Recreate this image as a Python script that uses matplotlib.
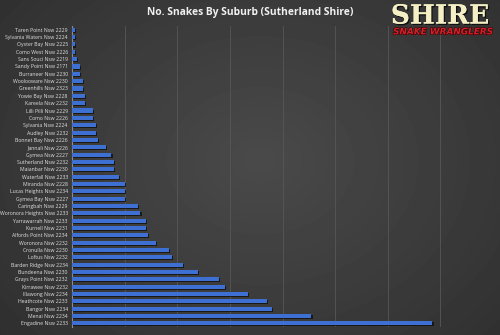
import numpy as np
import matplotlib
matplotlib.use("Agg")
import matplotlib.pyplot as plt
import matplotlib.patheffects as pe

# suburbs, top to bottom as shown in the chart
suburbs = [
    "Taren Point Nsw 2229", "Sylvania Waters Nsw 2224", "Oyster Bay Nsw 2225",
    "Como West Nsw 2226", "Sans Souci Nsw 2219", "Sandy Point Nsw 2171",
    "Burraneer Nsw 2230", "Woolooware Nsw 2230", "Greenhills Nsw 2323",
    "Yowie Bay Nsw 2228", "Kareela Nsw 2232", "Lilli Pilli Nsw 2229",
    "Como Nsw 2226", "Sylvania Nsw 2224", "Audley Nsw 2232",
    "Bonnet Bay Nsw 2226", "Jannali Nsw 2226", "Gymea Nsw 2227",
    "Sutherland Nsw 2232", "Maianbar Nsw 2230", "Waterfall Nsw 2233",
    "Miranda Nsw 2228", "Lucas Heights Nsw 2234", "Gymea Bay Nsw 2227",
    "Caringbah Nsw 2229", "Woronora Heights Nsw 2233", "Yarrawarrah Nsw 2233",
    "Kurnell Nsw 2231", "Alfords Point Nsw 2234", "Woronora Nsw 2232",
    "Cronulla Nsw 2230", "Loftus Nsw 2232", "Barden Ridge Nsw 2234",
    "Bundeena Nsw 2230", "Grays Point Nsw 2232", "Kirrawee Nsw 2232",
    "Illawong Nsw 2234", "Heathcote Nsw 2233", "Bangor Nsw 2234",
    "Menai Nsw 2234", "Engadine Nsw 2233",
]
snakes = [1, 1, 1, 1, 2, 3, 3, 4, 4, 5, 5, 8, 8, 9, 9, 10, 13, 15, 16, 16, 18,
          20, 20, 20, 25, 26, 28, 28, 29, 32, 37, 38, 42, 48, 56, 58, 67, 74,
          76, 91, 137]

title = "No. Snakes By Suburb (Sutherland Shire)"

fig = plt.figure(figsize=(5, 3.35), dpi=100)

# dark radial background
bg = fig.add_axes([0, 0, 1, 1], zorder=0)
yy, xx = np.mgrid[0:335, 0:500]
r = np.sqrt(((xx - 260) / 330.0) ** 2 + ((yy - 160) / 260.0) ** 2)
shade = np.clip(0.29 - 0.10 * r, 0.15, 0.29)
bg.imshow(shade, cmap="gray", vmin=0, vmax=1, aspect="auto")
bg.axis("off")

ax = fig.add_axes([0.144, 0.024, 0.842, 0.898], zorder=1)
ax.patch.set_alpha(0)

y = np.arange(len(suburbs))
ax.barh(y, snakes, height=0.55, color="#3d70d2", zorder=3,
        path_effects=[pe.withSimplePatchShadow(offset=(0.8, -0.8),
                                               shadow_rgbFace="#101010",
                                               alpha=0.8), pe.Normal()])
ax.set_ylim(len(suburbs) - 0.5, -0.5)
ax.set_xlim(0, 160)
ax.set_xticks(np.arange(0, 161, 20))
ax.set_xticklabels([])
ax.set_yticks(y)
ax.set_yticklabels(suburbs, fontsize=3.7, color="#e0e0e0", family="Open Sans")
ax.tick_params(length=0, pad=3)
ax.grid(axis="x", color="#575757", linewidth=0.6, zorder=0)
for s in ["top", "right", "bottom"]:
    ax.spines[s].set_visible(False)
ax.spines["left"].set_color("#8a8a8a")
ax.spines["left"].set_linewidth(0.8)

fig.text(0.5, 0.962, title, ha="center", va="center", fontsize=7.4,
         fontweight="bold", color="#f0f0f0", family="Open Sans")

# logo
fig.text(0.88, 0.952, "SHIRE", ha="center", va="center", fontsize=19,
         fontweight="bold", color="#f4efc4", family="DejaVu Serif",
         path_effects=[pe.withSimplePatchShadow(offset=(1, -1),
                                                shadow_rgbFace="#000000",
                                                alpha=0.7), pe.Normal()])
fig.text(0.886, 0.905, "SNAKE WRANGLERS", ha="center", va="center",
         fontsize=6.4, fontweight="bold", style="italic", color="#d0202a",
         family="DejaVu Sans",
         path_effects=[pe.withStroke(linewidth=0.8, foreground="#3a0000")])

fig.savefig("out.png", dpi=100)
